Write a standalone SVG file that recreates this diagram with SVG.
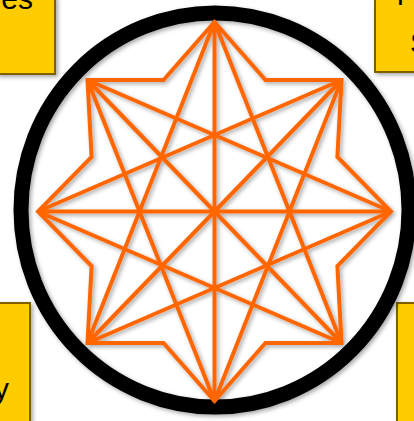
<svg xmlns="http://www.w3.org/2000/svg" width="414" height="421" viewBox="0 0 414 421">
<defs>
<filter id="sh" x="-10%" y="-10%" width="130%" height="130%">
<feDropShadow dx="2" dy="2" stdDeviation="2" flood-color="#000" flood-opacity="0.35"/>
</filter>
<style>
.box{fill:#FFCC00;stroke:#7F6000;stroke-width:2;filter:url(#sh)}
.t{font-family:"Liberation Sans",Arial,sans-serif;font-size:30px;fill:#000}
.star{fill:none;stroke:#FF6600;stroke-width:4;stroke-linejoin:miter;stroke-miterlimit:20}
</style>
</defs>
<rect width="414" height="421" fill="#fff"/>
<g id="box-tl"><rect class="box" x="-3" y="-3" width="58" height="77"/><text class="t" x="33" y="9" text-anchor="end">es</text></g>
<g id="box-tr"><rect class="box" x="375" y="-3" width="45" height="75"/><text class="t" x="397" y="5">r</text><text class="t" x="410" y="53" font-size="28">S</text></g>
<g id="box-bl"><rect class="box" x="-3" y="303" width="33" height="125"/><text class="t" x="9" y="399" text-anchor="end">y</text></g>
<g id="box-br"><rect class="box" x="397" y="303" width="25" height="125"/></g>
<g id="circle"><ellipse cx="215" cy="210" rx="194" ry="197" fill="none" stroke="#000" stroke-width="15" filter="url(#sh)"/></g>
<g id="connectors" class="star" filter="url(#sh)">
<polygon points="214.5,22 265.5,80 341.5,80 337.4,157 391,211.5 337.4,266 341.5,343 265.5,343 214.5,401 163.5,343 87.5,343 91.6,266 38,211.5 91.6,157 87.5,80 163.5,80"/>
<line x1="214.5" y1="22" x2="214.5" y2="401"/>
<line x1="341.5" y1="80" x2="87.5" y2="343"/>
<line x1="391" y1="211.5" x2="38" y2="211.5"/>
<line x1="341.5" y1="343" x2="87.5" y2="80"/>
<line x1="214.5" y1="22" x2="341.5" y2="343"/>
<line x1="341.5" y1="80" x2="214.5" y2="401"/>
<line x1="391" y1="211.5" x2="87.5" y2="343"/>
<line x1="341.5" y1="343" x2="38" y2="211.5"/>
<line x1="214.5" y1="401" x2="87.5" y2="80"/>
<line x1="87.5" y1="343" x2="214.5" y2="22"/>
<line x1="38" y1="211.5" x2="341.5" y2="80"/>
<line x1="87.5" y1="80" x2="391" y2="211.5"/>
</g>
</svg>
